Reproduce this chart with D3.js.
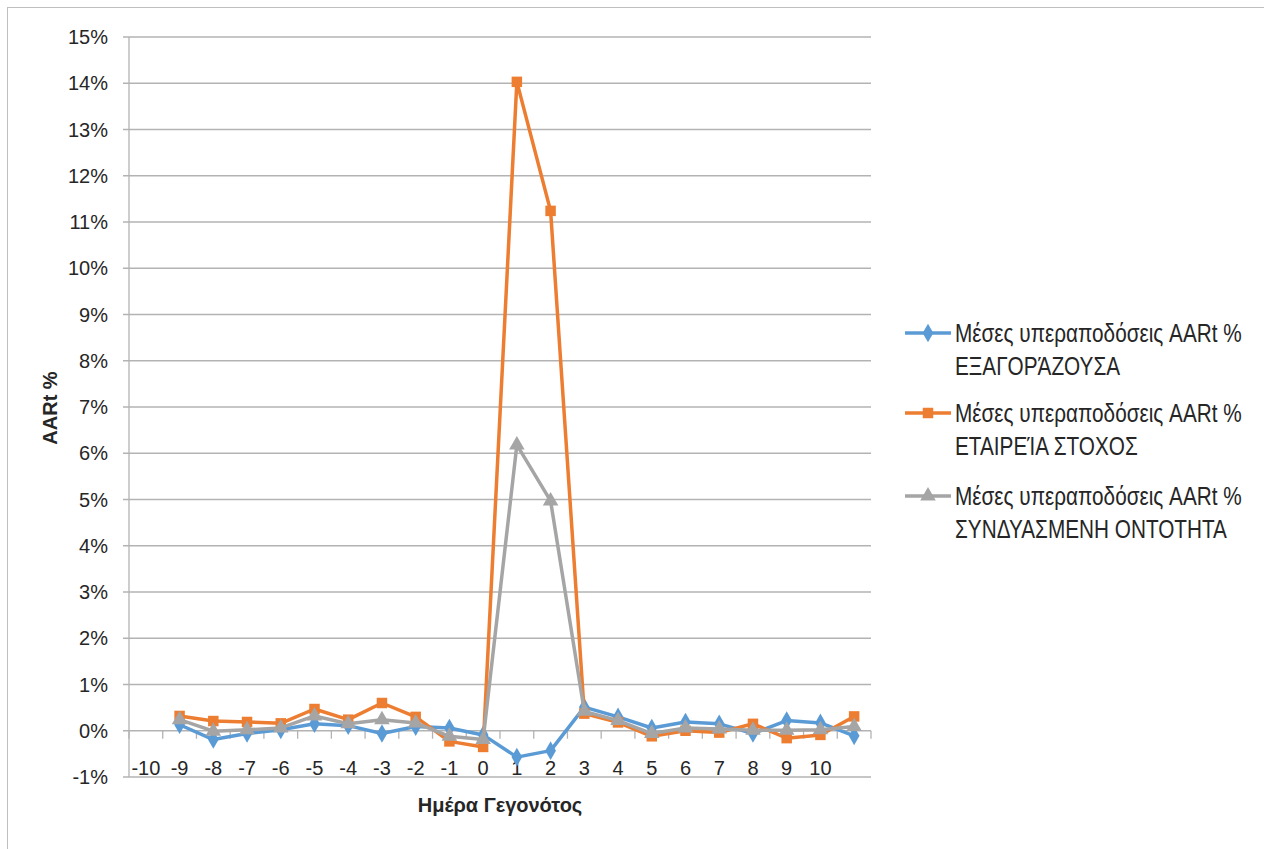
<!DOCTYPE html>
<html><head><meta charset="utf-8">
<script src="https://cdn.jsdelivr.net/npm/d3@7"></script>
<style>
html,body{margin:0;padding:0;background:#fff;}
svg{display:block;}
</style></head>
<body><svg id="c" width="1264" height="849"></svg>
<script>
const categories = ["-10","-9","-8","-7","-6","-5","-4","-3","-2","-1","0","1","2","3","4","5","6","7","8","9","10",""];
const yTicks = [-1,0,1,2,3,4,5,6,7,8,9,10,11,12,13,14,15];
const seriesNames = [
  ["Μέσες υπεραποδόσεις AARt %","ΕΞΑΓΟΡΆΖΟΥΣΑ"],
  ["Μέσες υπεραποδόσεις AARt %","ΕΤΑΙΡΕΊΑ  ΣΤΟΧΟΣ"],
  ["Μέσες υπεραποδόσεις AARt %","ΣΥΝΔΥΑΣΜΕΝΗ ΟΝΤΟΤΗΤΑ"]
];
const acquirer = [null,0.13,-0.19,-0.06,0.02,0.15,0.11,-0.06,0.09,0.06,-0.09,-0.57,-0.43,0.51,0.30,0.06,0.19,0.15,-0.06,0.22,0.17,-0.11];
const target   = [null,0.32,0.21,0.19,0.16,0.47,0.24,0.60,0.30,-0.23,-0.35,14.03,11.24,0.37,0.18,-0.12,0.00,-0.04,0.15,-0.16,-0.09,0.31];
const combined = [null,0.24,-0.01,0.02,0.06,0.32,0.15,0.24,0.17,-0.12,-0.19,6.18,4.97,0.42,0.22,-0.06,0.06,0.04,0.01,0.01,0.02,0.09];
const colors = ["#5B9BD5","#ED7D31","#A5A5A5"];
const markers = [d3.symbolDiamond, d3.symbolSquare, d3.symbolTriangle];
const markerSizes = [100, 110, 105];

const svg = d3.select("#c");
svg.append("rect").attr("x",7.5).attr("y",7.5).attr("width",1300).attr("height",900)
  .attr("fill","#fff").attr("stroke","#bfbfbf").attr("stroke-width",1);

const L=129, R=871, T=37, B=777;
const x = d3.scaleBand().domain(d3.range(categories.length)).range([L,R]).padding(0);
const y = d3.scaleLinear().domain([-1,15]).range([B,T]);

// gridlines
svg.append("g").selectAll("line").data(yTicks).join("line")
  .attr("x1",L-6).attr("x2",R).attr("y1",d=>y(d)).attr("y2",d=>y(d))
  .attr("stroke","#b3b3b3").attr("stroke-width",1.3);
// y axis line
svg.append("line").attr("x1",L).attr("x2",L).attr("y1",T).attr("y2",B)
  .attr("stroke","#b3b3b3").attr("stroke-width",1.3);
// y labels
svg.append("g").selectAll("text").data(yTicks).join("text")
  .attr("x",108).attr("y",d=>y(d)).attr("dy","0.36em").attr("text-anchor","end")
  .attr("font-family","Liberation Sans").attr("font-size",20).attr("fill","#262626")
  .text(d=>d+"%");
// x axis ticks at category boundaries on zero line
const bounds = d3.range(categories.length+1).map(i=> i<categories.length ? x(i) : R);
svg.append("g").selectAll("line").data(bounds).join("line")
  .attr("x1",d=>d).attr("x2",d=>d).attr("y1",y(0)).attr("y2",y(0)+8)
  .attr("stroke","#b3b3b3").attr("stroke-width",1.3);
// x labels
svg.append("g").selectAll("text").data(categories).join("text")
  .attr("x",(d,i)=>x(i)+x.bandwidth()/2).attr("y",768).attr("dy","0.36em").attr("text-anchor","middle")
  .attr("font-family","Liberation Sans").attr("font-size",20).attr("fill","#262626")
  .text(d=>d);

// axis titles
svg.append("text").attr("x",500).attr("y",812).attr("text-anchor","middle")
  .attr("font-family","Liberation Sans").attr("font-weight","bold").attr("font-size",20).attr("fill","#262626")
  .text("Ημέρα Γεγονότος");
svg.append("text").attr("transform","translate(57,408) rotate(-90)").attr("text-anchor","middle")
  .attr("font-family","Liberation Sans").attr("font-weight","bold").attr("font-size",20).attr("fill","#262626")
  .text("AARt %");

// series
const allSeries = [acquirer, target, combined];
const line = d3.line().defined(d=>d!=null).x((d,i)=>x(i)+x.bandwidth()/2).y(d=>y(d));
[0,1,2].forEach(s=>{
  const data = allSeries[s];
  svg.append("path").datum(data).attr("d",line).attr("fill","none")
    .attr("stroke",colors[s]).attr("stroke-width",3.5).attr("stroke-linejoin","round");
  svg.append("g").selectAll("path").data(data.map((v,i)=>({v,i})).filter(d=>d.v!=null)).join("path")
    .attr("transform",d=>`translate(${x(d.i)+x.bandwidth()/2},${y(d.v)})`)
    .attr("d",d3.symbol().type(markers[s]).size(markerSizes[s]))
    .attr("fill",colors[s]);
});

// legend
const legendY = [333, 413, 496];
seriesNames.forEach((nm,s)=>{
  const g = svg.append("g").attr("transform",`translate(0,${legendY[s]})`);
  g.append("line").attr("x1",905).attr("x2",951).attr("y1",0).attr("y2",0)
    .attr("stroke",colors[s]).attr("stroke-width",3.5);
  g.append("path").attr("transform","translate(928,0)")
    .attr("d",d3.symbol().type(markers[s]).size(markerSizes[s])).attr("fill",colors[s]);
  const tg = g.append("g").attr("transform","translate(955,0) scale(0.83,1)");
  nm.forEach((t,k)=>{
    tg.append("text").attr("x",0).attr("y",k*33).attr("dy","0.36em")
      .attr("font-family","Liberation Sans").attr("font-size",25).attr("fill","#262626")
      .text(t);
  });
});
</script></body></html>
